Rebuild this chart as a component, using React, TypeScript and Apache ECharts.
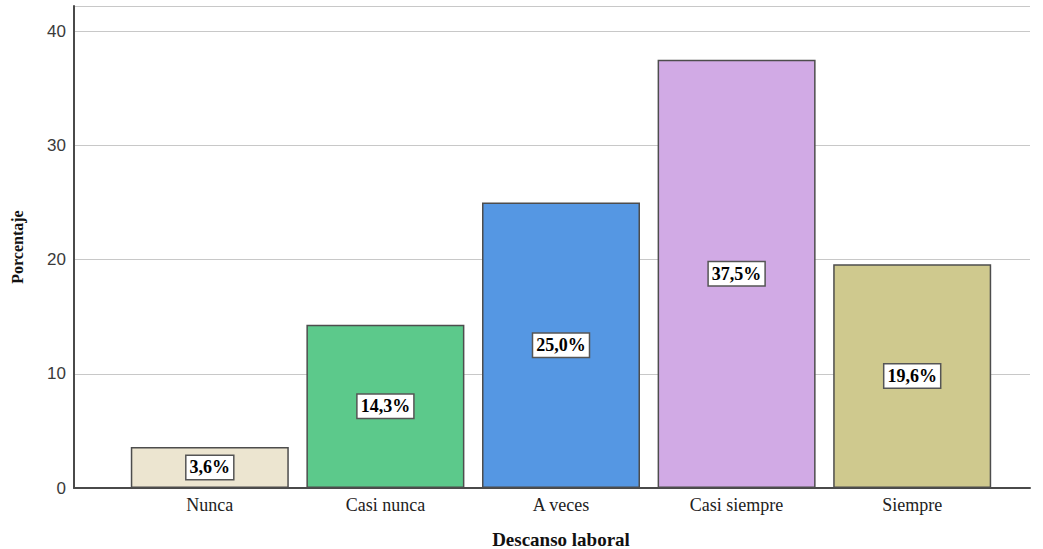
import React, { useEffect, useRef } from "react";
import * as echarts from "echarts";

const categories = ["Nunca", "Casi nunca", "A veces", "Casi siempre", "Siempre"];
const percentages = [3.6, 14.3, 25.0, 37.5, 19.6];
const barColors = ["#ECE5D0", "#5CC98B", "#5597E3", "#D1AAE5", "#CFC98E"];
const yTicks = [0, 10, 20, 30, 40];

const SERIF = "'Liberation Serif', 'DejaVu Serif', serif";
const SANS = "'Liberation Sans', 'DejaVu Sans', sans-serif";

export default function App() {
  const ref = useRef<HTMLDivElement>(null);

  useEffect(() => {
    if (!ref.current) return;
    const chart = echarts.init(ref.current, null, { renderer: "svg" });
    const yMax = 42.2;
    chart.setOption({
      animation: false,
      backgroundColor: "#ffffff",
      grid: [
        // frame grid: axis lines, gridlines and value labels
        { left: 74, right: 13, top: 6, bottom: 61, outerBoundsMode: "none" },
        // bar grid: narrower span holding the categories
        { left: 122, right: 43, top: 6, bottom: 61, outerBoundsMode: "none" },
      ],
      xAxis: [
        {
          type: "value",
          gridIndex: 0,
          min: 0,
          max: 1,
          axisLine: { show: true, lineStyle: { color: "#4a4a4a", width: 2 } },
          axisTick: { show: false },
          axisLabel: { show: false },
          splitLine: { show: false },
        },
        {
          type: "category",
          gridIndex: 1,
          data: categories,
          axisLine: { show: false },
          axisTick: { show: false },
          axisLabel: {
            color: "#222",
            fontFamily: SERIF,
            fontSize: 18,
            margin: 8,
          },
          name: "Descanso laboral",
          nameLocation: "middle",
          nameGap: 42,
          nameTextStyle: {
            fontFamily: SERIF,
            fontWeight: "bold",
            fontSize: 19,
            color: "#111",
          },
        },
      ],
      yAxis: [
        {
          type: "value",
          gridIndex: 0,
          min: 0,
          max: yMax,
          interval: 10,
          axisLine: { show: true, lineStyle: { color: "#4a4a4a", width: 2 } },
          axisTick: { show: false },
          axisLabel: {
            color: "#3a3a3a",
            fontFamily: SANS,
            fontSize: 17,
            margin: 8,
            formatter: (v: number) => (yTicks.includes(v) ? String(v) : ""),
          },
          splitLine: { show: true, lineStyle: { color: "#c8c8c8", width: 1 } },
          name: "Porcentaje",
          nameLocation: "middle",
          nameGap: 49,
          nameTextStyle: {
            fontFamily: SERIF,
            fontWeight: "bold",
            fontSize: 16,
            color: "#111",
          },
        },
        {
          type: "value",
          gridIndex: 1,
          min: 0,
          max: yMax,
          show: false,
          splitLine: { show: false },
        },
      ],
      series: [
        {
          type: "bar",
          xAxisIndex: 1,
          yAxisIndex: 1,
          barWidth: 158,
          data: percentages.map((v, i) => ({
            value: v,
            itemStyle: { color: barColors[i] },
          })),
          itemStyle: { borderColor: "#4d4d4d", borderWidth: 1.5 },
          label: {
            show: true,
            position: "inside",
            formatter: (p: any) => p.value.toFixed(1).replace(".", ",") + "%",
            fontFamily: SERIF,
            fontWeight: "bold",
            fontSize: 18,
            color: "#000",
            backgroundColor: "#ffffff",
            borderColor: "#555",
            borderWidth: 1.5,
            padding: [3, 3, 2, 3],
          },
        },
      ],
    });
    return () => chart.dispose();
  }, []);

  return (
    <div
      ref={ref}
      style={{ position: "fixed", left: 0, top: 0, width: 1043, height: 549 }}
    />
  );
}
